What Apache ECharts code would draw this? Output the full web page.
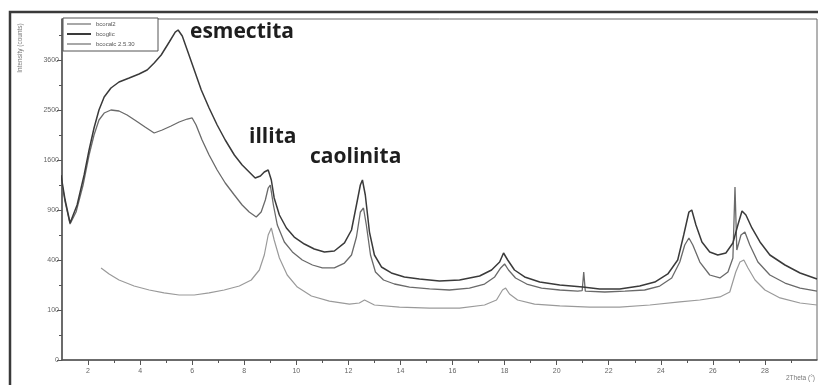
<!DOCTYPE html>
<html><head><meta charset="utf-8">
<script src="https://cdn.jsdelivr.net/npm/echarts@6/dist/echarts.min.js"></script>
<style>html,body{margin:0;padding:0;background:#fff}#c{width:818px;height:385px}</style>
</head><body><div id="c"></div>
<script>
const seriesNames = ['bcoral2', 'bcoglic', 'bcocalc 2.5.30'];

// bcoglic (top curve)
const thetaTop = [0.96,1.12,1.31,1.58,1.85,2.04,2.23,2.42,2.62,2.88,3.19,3.58,3.96,4.27,4.54,4.81,5.12,5.35,5.46,5.62,5.81,6.08,6.35,6.65,6.96,7.27,7.62,7.92,8.19,8.42,8.62,8.77,8.92,9.04,9.15,9.35,9.62,9.92,10.31,10.69,11.08,11.46,11.85,12.12,12.31,12.46,12.54,12.65,12.81,13.0,13.27,13.65,14.15,14.73,15.5,16.27,17.04,17.5,17.81,17.96,18.12,18.38,18.77,19.35,20.12,21.0,21.65,22.42,23.19,23.77,24.27,24.65,24.88,25.08,25.19,25.35,25.58,25.88,26.19,26.5,26.77,26.96,27.12,27.27,27.5,27.81,28.19,28.77,29.35,30.0];
const countsTop = [1369,1024,751,961,1369,1764,2153,2500,2767,2959,3091,3181,3272,3364,3528,3721,4045,4303,4356,4199,3844,3364,2916,2540,2209,1936,1681,1521,1414,1325,1354,1414,1444,1296,1050,841,697,605,538,493,467,475,548,676,961,1225,1296,1089,655,441,346,303,276,262,250,256,282,324,384,458,400,324,276,243,225,213,202,202,219,243,296,400,625,876,900,729,557,467,441,458,548,729,888,841,697,557,441,361,303,262];

// bcoral2 (middle curve)
const thetaMid = [0.96,1.12,1.31,1.54,1.81,2.04,2.23,2.42,2.62,2.88,3.19,3.5,3.85,4.19,4.54,4.85,5.19,5.5,5.81,6.0,6.15,6.38,6.65,6.96,7.27,7.62,7.92,8.19,8.46,8.65,8.81,8.92,9.0,9.12,9.27,9.54,9.85,10.23,10.62,11.0,11.46,11.85,12.12,12.31,12.46,12.58,12.69,12.85,13.04,13.35,13.77,14.35,15.12,15.88,16.65,17.23,17.62,17.85,18.0,18.15,18.42,18.85,19.42,20.12,20.81,20.98,21.04,21.1,21.85,22.62,23.38,23.96,24.42,24.73,24.92,25.08,25.23,25.5,25.88,26.27,26.58,26.77,26.85,26.92,27.08,27.23,27.42,27.73,28.19,28.77,29.35,30.0];
const countsMid = [1325,999,740,876,1225,1681,2025,2304,2440,2500,2480,2401,2285,2172,2061,2116,2190,2266,2323,2343,2209,1936,1681,1444,1253,1089,961,876,818,876,1024,1183,1225,961,729,557,467,400,361,339,339,376,441,605,876,924,729,441,310,256,231,213,202,196,207,231,276,339,369,324,269,231,207,196,190,192,310,190,185,190,196,219,269,384,529,595,529,384,289,269,310,416,1197,484,625,655,529,384,289,237,207,190];

// bcocalc 2.5.30 (bottom curve)
const thetaLow = [2.5,2.81,3.19,3.77,4.35,4.92,5.5,6.08,6.65,7.23,7.81,8.27,8.58,8.77,8.92,9.04,9.15,9.35,9.65,10.04,10.58,11.27,12.04,12.42,12.62,13.0,13.96,15.12,16.27,17.23,17.69,17.92,18.04,18.19,18.5,19.15,20.12,21.27,22.42,23.58,24.73,25.5,26.27,26.65,26.88,27.04,27.19,27.35,27.62,28.0,28.58,29.35,30.0];
const countsLow = [339,296,256,219,196,180,169,169,180,196,219,256,324,441,625,697,576,416,289,213,164,139,125,130,144,121,112,108,108,121,144,196,207,174,144,125,117,112,112,121,135,144,159,185,310,384,400,339,256,196,154,130,121];

const yTickCounts = [0, 100, 400, 900, 1600, 2500, 3600];
const yMinorCounts = [25, 225, 625, 1225, 2025, 3025, 4225];
const xTickLabels = [2, 4, 6, 8, 10, 12, 14, 16, 18, 20, 22, 24, 26, 28];
const xMinorTicks = [3, 5, 7, 9, 11, 13, 15, 17, 19, 21, 23, 25, 27, 29];
const annotations = ['esmectita', 'illita', 'caolinita'];
const yTitle = 'Intensity (counts)';
const xTitle = '2Theta (°)';

const pairs = (t, c) => t.map((x, i) => [x, Math.sqrt(c[i])]);
const ySq = yTickCounts.map(Math.sqrt);
const yMinorSq = yMinorCounts.map(Math.sqrt);

const chart = echarts.init(document.getElementById('c'), null, {renderer: 'canvas'});
const axisColor = '#555';
const labelStyle = {fontSize: 7, color: '#666', fontFamily: 'Liberation Sans'};
const annStyle = {fontSize: 21, fontWeight: 'bold', fontFamily: 'Open Sans', fill: '#1e1e1e'};
const colors = ['#6a6a6a', '#3a3a3a', '#9a9a9a'];
const legendColors = ['#a8a8a8', '#3a3a3a', '#a8a8a8'];
const legendH = [1.2, 2, 1];

chart.setOption({
  animation: false,
  grid: {left: 62, right: 1, top: 19, bottom: 25, show: true, borderColor: '#666', borderWidth: 1},
  xAxis: [
    {type: 'value', min: 1, max: 30, position: 'bottom',
     axisLine: {lineStyle: {color: axisColor, width: 1.5}},
     axisTick: {customValues: xTickLabels, length: 5, lineStyle: {color: axisColor}},
     axisLabel: Object.assign({customValues: xTickLabels, margin: 8}, labelStyle),
     splitLine: {show: false}},
    {type: 'value', min: 1, max: 30, position: 'bottom',
     axisLine: {show: false},
     axisTick: {customValues: xMinorTicks, length: 3, lineStyle: {color: axisColor}},
     axisLabel: {show: false}, splitLine: {show: false}}
  ],
  yAxis: [
    {type: 'value', min: 0, max: 68.2, position: 'left',
     axisLine: {show: true, lineStyle: {color: axisColor, width: 1.5}},
     axisTick: {show: true, customValues: ySq, length: 5, lineStyle: {color: axisColor}},
     axisLabel: Object.assign({customValues: ySq, margin: 3, formatter: v => String(Math.round(v * v))}, labelStyle),
     splitLine: {show: false}},
    {type: 'value', min: 0, max: 68.2, position: 'left',
     axisLine: {show: false},
     axisTick: {show: true, customValues: yMinorSq, length: 3, lineStyle: {color: axisColor}},
     axisLabel: {show: false}, splitLine: {show: false}}
  ],
  legend: {
    left: 63, top: 18, orient: 'vertical', itemWidth: 24, itemHeight: 2, itemGap: 2,
    padding: [2, 5, 3, 4], borderColor: '#555', borderWidth: 1, backgroundColor: '#fff',
    textStyle: {fontSize: 6, color: '#555', width: 57, lineHeight: 8, fontFamily: 'Liberation Sans'},
    data: seriesNames.map((n, i) => ({name: n, icon: 'rect',
      itemStyle: {color: legendColors[i]}}))
  },
  series: [
    {name: seriesNames[0], type: 'line', symbol: 'none', data: pairs(thetaMid, countsMid),
     lineStyle: {color: colors[0], width: 1.3}, itemStyle: {color: colors[0]}, z: 3},
    {name: seriesNames[1], type: 'line', symbol: 'none', data: pairs(thetaTop, countsTop),
     lineStyle: {color: colors[1], width: 1.5}, itemStyle: {color: colors[1]}, z: 4},
    {name: seriesNames[2], type: 'line', symbol: 'none', data: pairs(thetaLow, countsLow),
     lineStyle: {color: colors[2], width: 1.2}, itemStyle: {color: colors[2]}, z: 2}
  ],
  graphic: [
    {type: 'rect', shape: {x: 10, y: 12, width: 830, height: 400}, style: {fill: null, stroke: '#3a3a3a', lineWidth: 2.5}, silent: true},
    {type: 'text', x: 190, y: 32, style: Object.assign({text: annotations[0], textVerticalAlign: 'middle'}, annStyle)},
    {type: 'text', x: 249, y: 137, style: Object.assign({text: annotations[1], textVerticalAlign: 'middle'}, annStyle)},
    {type: 'text', x: 310, y: 157, style: Object.assign({text: annotations[2], textVerticalAlign: 'middle'}, annStyle)},
    {type: 'text', x: 20, y: 48, rotation: Math.PI / 2,
     style: {text: yTitle, fontSize: 6.5, fill: '#777', textAlign: 'center', textVerticalAlign: 'middle', fontFamily: 'Liberation Sans'}},
    {type: 'text', x: 786, y: 378,
     style: {text: xTitle, fontSize: 6.5, fill: '#777', textVerticalAlign: 'middle', fontFamily: 'Liberation Sans'}}
  ]
});
</script>
</body></html>
